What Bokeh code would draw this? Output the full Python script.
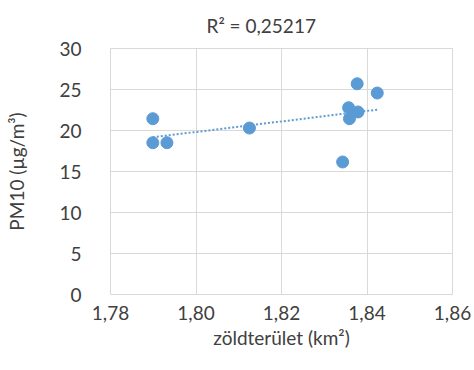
import numpy as np
from bokeh.plotting import figure
from bokeh.models import ColumnDataSource, CustomJSTickFormatter, FixedTicker, Range1d
from bokeh.embed import file_html
from bokeh.resources import INLINE

# data
zold = [1.7899, 1.7899, 1.7932, 1.8125, 1.8377, 1.8424, 1.8357, 1.8379, 1.8359, 1.8343]
pm10 = [21.44, 18.51, 18.51, 20.30, 25.70, 24.57, 22.78, 22.26, 21.44, 16.16]
x_ticks = [1.78, 1.80, 1.82, 1.84, 1.86]
y_ticks = [0, 5, 10, 15, 20, 25, 30]
title_text = "R² = 0,25217"
x_label = "zöldterület (km²)"
y_label = "PM10 (µg/m³)"

FONT = "Lato"
TXT = "#404040"
GRID = "#d9d9d9"
BLUE = "#5b9bd5"

p = figure(width=474, height=370, output_backend="svg", toolbar_location=None,
           x_range=Range1d(1.78, 1.86), y_range=Range1d(0, 30),
           min_border_left=110, min_border_right=22, min_border_top=48, min_border_bottom=76,
           title=title_text)

p.title.text_font = FONT
p.title.text_font_size = "19px"
p.title.text_font_style = "normal"
p.title.text_color = TXT
p.title.align = "left"
p.title.offset = 96
p.title.vertical_align = "top"
p.title.standoff = 20

p.outline_line_color = GRID
p.background_fill_color = "white"
p.border_fill_color = "white"

for g in (p.xgrid, p.ygrid):
    g.grid_line_color = GRID
    g.grid_line_width = 1
p.xgrid.ticker = FixedTicker(ticks=x_ticks)
p.ygrid.ticker = FixedTicker(ticks=y_ticks)

p.xaxis.ticker = FixedTicker(ticks=x_ticks)
p.yaxis.ticker = FixedTicker(ticks=y_ticks)
p.xaxis.formatter = CustomJSTickFormatter(code="return tick.toFixed(2).replace('.', ',');")

for ax in (p.xaxis, p.yaxis):
    ax.axis_line_color = None
    ax.major_tick_line_color = None
    ax.minor_tick_line_color = None
    ax.major_label_text_font = FONT
    ax.major_label_text_font_size = "19px"
    ax.major_label_text_color = TXT
    ax.axis_label_text_font = FONT
    ax.axis_label_text_font_size = "19px"
    ax.axis_label_text_font_style = "normal"
    ax.axis_label_text_color = TXT

p.xaxis.axis_label = x_label
p.yaxis.axis_label = y_label
p.xaxis.major_label_standoff = 5
p.xaxis.axis_label_standoff = 3
p.yaxis.major_label_standoff = 23
p.yaxis.axis_label_standoff = 28

# linear trendline (least squares, as Excel)
k, b = np.polyfit(zold, pm10, 1)
tx = [min(zold), max(zold)]
ty = [k * v + b for v in tx]
p.line(tx, ty, line_color=BLUE, line_width=2, line_dash="2 2")

src = ColumnDataSource(dict(x=zold, y=pm10))
p.scatter("x", "y", source=src, size=12, fill_color=BLUE, line_color=BLUE)

open("out.html", "w").write(file_html(p, INLINE))
